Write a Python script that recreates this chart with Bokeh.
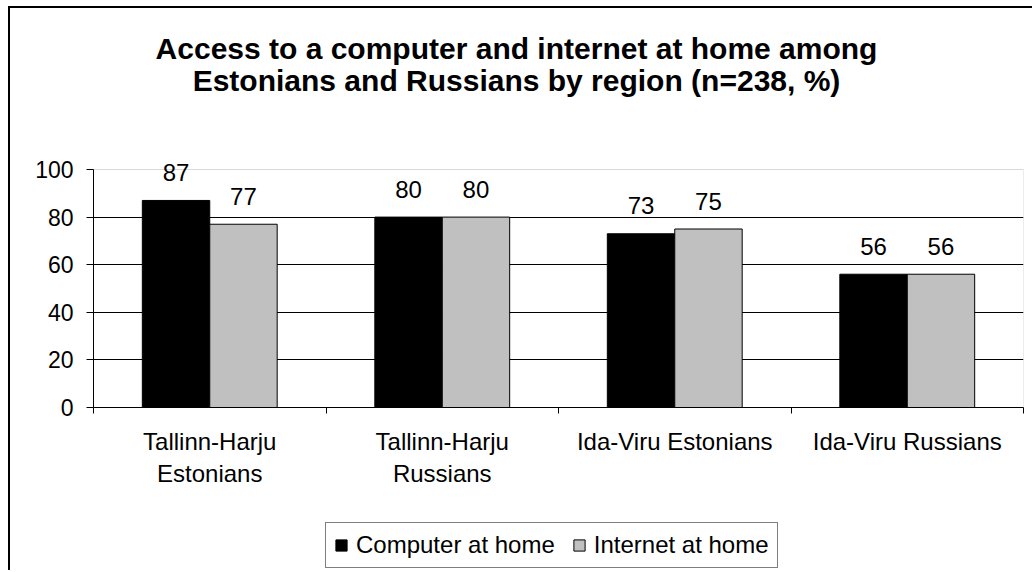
from bokeh.plotting import figure
from bokeh.layouts import column
from bokeh.models import (ColumnDataSource, Range1d, FixedTicker, Legend, LegendItem,
                          LabelSet, Label, BoxAnnotation)
from bokeh.embed import file_html
from bokeh.resources import INLINE
from bokeh.core.properties import value

categories = ["Tallinn-Harju\nEstonians", "Tallinn-Harju\nRussians",
              "Ida-Viru Estonians", "Ida-Viru Russians"]
computer = [87, 80, 73, 56]
internet = [77, 80, 75, 56]
series_names = ["Computer at home", "Internet at home"]
y_ticks = [0, 20, 40, 60, 80, 100]
title_lines = ["Access to a computer and internet at home among",
               "Estonians and Russians by region (n=238, %)"]

FONT = "Liberation Sans"
GRAY = "#C0C0C0"
W = 1022
FRAME_H = 399      # frame pixel height (title area + plot area)
PLOT_H = 238       # pixel height of the 0..100 plot area

centers = [i + 0.5 for i in range(len(categories))]
bounds = list(range(len(categories) + 1))
dodge = 0.145
bar_w = 0.29
y_end = y_ticks[-1] * FRAME_H / PLOT_H

src_c = ColumnDataSource(dict(x=[c - dodge for c in centers], top=computer,
                              lbl=[str(v) for v in computer]))
src_i = ColumnDataSource(dict(x=[c + dodge for c in centers], top=internet,
                              lbl=[str(v) for v in internet]))

# ---- main chart (frame also holds the title area)
p = figure(width=W, height=FRAME_H + 105, output_backend="svg", toolbar_location=None,
           x_range=Range1d(0, len(categories)), y_range=Range1d(y_ticks[0], y_end),
           min_border_left=83, min_border_right=9, min_border_top=0, min_border_bottom=105)
p.background_fill_color = "white"
p.border_fill_color = "white"
p.outline_line_color = None

p.add_layout(BoxAnnotation(left=0, right=len(categories), bottom=y_ticks[0], top=y_ticks[-1],
                           fill_alpha=0, line_color="#808080", line_width=1,
                           level="underlay"))

p.vbar(x="x", top="top", width=bar_w, source=src_c,
       fill_color="black", line_color="black", line_width=1)
p.vbar(x="x", top="top", width=bar_w, source=src_i,
       fill_color=GRAY, line_color="black", line_width=1)

for src in (src_c, src_i):
    p.add_layout(LabelSet(x="x", y="top", text="lbl", source=src, text_align="center",
                          text_baseline="middle", y_offset=28, text_font=value(FONT),
                          text_font_size="24px", text_color="black"))

for line, yy in zip(title_lines, [359, 327]):
    p.add_layout(Label(x=423, y=yy, x_units="screen", y_units="screen", text=line,
                       text_align="center", text_baseline="middle", text_font=FONT,
                       text_font_size="30px", text_font_style="bold", text_color="black"))

xa = p.xaxis[0]
xa.ticker = FixedTicker(ticks=centers, minor_ticks=bounds)
xa.major_label_overrides = {c: lab for c, lab in zip(centers, categories)}
xa.major_tick_out = 0
xa.major_tick_in = 0
xa.minor_tick_out = 6
xa.minor_tick_in = 0
xa.minor_tick_line_color = "black"
xa.axis_line_color = "black"
xa.major_label_text_font = FONT
xa.major_label_text_font_size = "24px"
xa.major_label_text_color = "black"
xa.major_label_standoff = 14
xa.major_label_text_line_height = 1.2

ya = p.yaxis[0]
ya.ticker = FixedTicker(ticks=y_ticks)
ya.bounds = (y_ticks[0], y_ticks[-1])
ya.major_tick_out = 7
ya.major_tick_in = 0
ya.minor_tick_line_color = None
ya.axis_line_color = "black"
ya.major_tick_line_color = "black"
ya.major_label_text_font = FONT
ya.major_label_text_font_size = "23px"
ya.major_label_text_color = "black"
ya.major_label_standoff = 13

p.xgrid.visible = False
p.ygrid.ticker = FixedTicker(ticks=y_ticks[1:-1])
p.ygrid.grid_line_color = "black"
p.ygrid.grid_line_width = 1

# ---- legend strip (its renderers are hidden; only the legend shows)
pl = figure(width=W, height=58, output_backend="svg", toolbar_location=None,
            x_axis_type=None, y_axis_type=None, x_range=Range1d(-2, -1),
            y_range=Range1d(-2, -1), min_border=0, min_border_left=0, min_border_right=0,
            min_border_top=0, min_border_bottom=0)
pl.outline_line_color = None
pl.grid.visible = False
pl.background_fill_color = "white"
pl.border_fill_color = "white"
lr1 = pl.vbar(x="x", top="top", width=bar_w, source=src_c,
              fill_color="black", line_color="black")
lr2 = pl.vbar(x="x", top="top", width=bar_w, source=src_i,
              fill_color=GRAY, line_color="black")
lr1.visible = False
lr2.visible = False
legend = Legend(items=[LegendItem(label=series_names[0], renderers=[lr1]),
                       LegendItem(label=series_names[1], renderers=[lr2])],
                orientation="horizontal", location=(232, 2),
                border_line_color="black", border_line_width=1,
                background_fill_color="white", background_fill_alpha=1,
                inactive_fill_alpha=0,
                padding=8, spacing=17, label_standoff=8,
                glyph_width=14, glyph_height=14,
                label_text_font=FONT, label_text_font_size="24px",
                label_text_color="black", margin=0)
pl.add_layout(legend, "center")

layout = column(p, pl, spacing=0)
layout.styles = {"border-left": "2px solid black", "border-top": "2px solid black",
                 "margin-left": "8px", "margin-top": "6px"}

open("out.html", "w").write(file_html(layout, INLINE))
